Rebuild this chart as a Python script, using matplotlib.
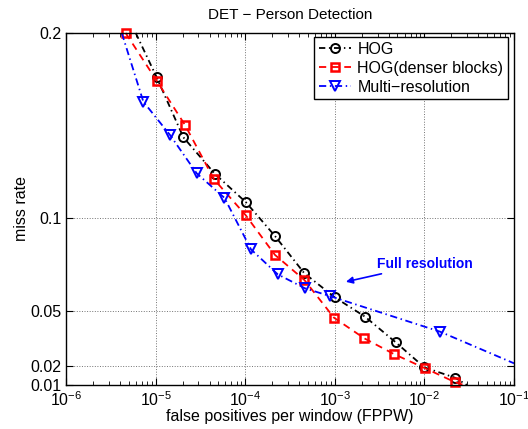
import numpy as np
import matplotlib
matplotlib.use('Agg')
import matplotlib.pyplot as plt
from matplotlib.ticker import LogLocator, FixedLocator, NullFormatter

plt.rcParams['font.family'] = ['Liberation Sans', 'DejaVu Sans']
plt.rcParams['mathtext.fontset'] = 'custom'
plt.rcParams['mathtext.rm'] = 'Liberation Sans'
plt.rcParams['mathtext.it'] = 'Liberation Sans:italic'

# HOG (line start/end at the axes edges carry no marker)
hog_fppw = [6.0e-6, 1.03e-5, 2.04e-5, 4.6e-5, 1.02e-4, 2.15e-4, 4.57e-4,
            1.0e-3, 2.17e-3, 4.79e-3, 1.0e-2, 2.2e-2, 2.98e-2]
hog_miss = [0.2, 0.176, 0.1437, 0.1239, 0.1086, 0.0904, 0.0703,
            0.0573, 0.0469, 0.0330, 0.0195, 0.0139, 0.01]
hog_marks = list(range(1, 12))

# HOG with denser blocks
dense_fppw = [4.63e-6, 1.03e-5, 2.13e-5, 4.49e-5, 1.01e-4, 2.15e-4, 4.57e-4,
              9.8e-4, 2.13e-3, 4.61e-3, 1.02e-2, 2.2e-2, 2.75e-2]
dense_miss = [0.2, 0.1742, 0.1503, 0.1210, 0.1017, 0.0802, 0.0667,
              0.0463, 0.0352, 0.0266, 0.019, 0.0115, 0.01]
dense_marks = list(range(0, 12))

# Multi-resolution
multi_fppw = [4.19e-6, 7.3e-6, 1.45e-5, 2.88e-5, 5.87e-5, 1.16e-4, 2.31e-4,
              4.64e-4, 8.8e-4, 1.49e-2, 1.0e-1]
multi_miss = [0.2, 0.1629, 0.1449, 0.1242, 0.1110, 0.0832, 0.0697,
              0.0622, 0.058, 0.0388, 0.0217]
multi_marks = list(range(1, 10))

y_ticks = [0.01, 0.02, 0.05, 0.1, 0.2]
y_tick_labels = ['0.01', '0.02', '0.05', '0.1', '0.2']

fig = plt.figure(figsize=(5.28, 4.29), dpi=100)
ax = fig.add_axes([0.125, 0.1026, 0.8485, 0.8205])

ax.plot(hog_fppw, hog_miss, color='black', linestyle=(0, (3.5, 2, 0.8, 2)), linewidth=1.3,
        marker='o', markersize=6.5, markerfacecolor='none', markeredgewidth=1.4,
        markevery=hog_marks, label='HOG', clip_on=False)
ax.plot(dense_fppw, dense_miss, color='red', linestyle=(0, (4, 3)), linewidth=1.3,
        marker='s', markersize=5.5, markerfacecolor='none', markeredgewidth=1.8,
        markevery=dense_marks, label='HOG(denser blocks)', clip_on=False)
ax.plot(multi_fppw, multi_miss, color='blue', linestyle=(0, (4, 2, 0.8, 2)), linewidth=1.3,
        marker='v', markersize=7, markerfacecolor='none', markeredgewidth=1.4,
        markevery=multi_marks, label='Multi\u2212resolution', clip_on=False)

ax.set_xscale('log')
ax.set_xlim(1e-6, 1e-1)
ax.set_ylim(0.01, 0.2)
ax.xaxis.set_major_locator(LogLocator(base=10, numticks=10))
ax.xaxis.set_minor_locator(LogLocator(base=10, subs=np.arange(2, 10), numticks=20))
ax.xaxis.set_minor_formatter(NullFormatter())
ax.yaxis.set_major_locator(FixedLocator(y_ticks))
ax.set_yticklabels(y_tick_labels)

ax.tick_params(which='both', direction='in', top=True, right=True, labelsize=11.5)
ax.tick_params(which='major', length=5, width=0.8)
ax.tick_params(which='minor', length=3, width=0.6)
for sp in ax.spines.values():
    sp.set_linewidth(1.0)

ax.grid(True, which='major', linestyle=':', color='0.45', linewidth=0.7)

ax.set_title('DET \u2212 Person Detection', fontsize=11, pad=10)
ax.set_xlabel('false positives per window (FPPW)', fontsize=11.5, labelpad=0)
ax.set_ylabel('miss rate', fontsize=11.5, labelpad=1)

leg = ax.legend(loc='upper right', bbox_to_anchor=(0.987, 0.989), borderaxespad=0,
                fontsize=11.5, handlelength=2.0, labelspacing=0.25,
                fancybox=False, framealpha=1, edgecolor='black',
                borderpad=0.3, handletextpad=0.4)
leg.get_frame().set_linewidth(1.0)

ax.annotate('Full resolution', xy=(1.33e-3, 0.0657), xytext=(2.96e-3, 0.0753),
            color='blue', fontsize=10, fontweight='bold', va='center',
            arrowprops=dict(arrowstyle='-|>', color='blue', lw=1.2,
                            mutation_scale=10, shrinkA=0, shrinkB=0))

fig.savefig('out.png', dpi=100)
